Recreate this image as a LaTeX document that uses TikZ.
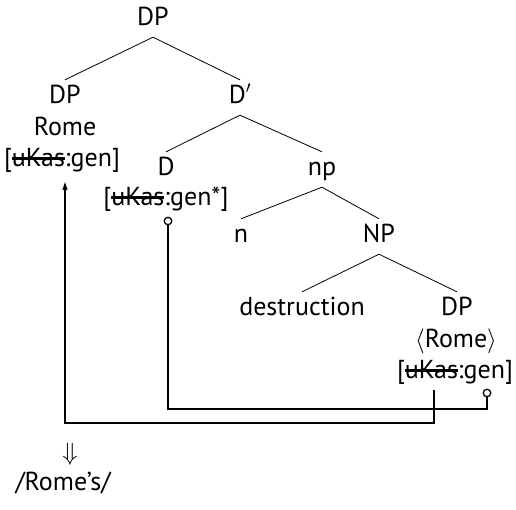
\documentclass[tikz,border=0pt]{standalone}
\usepackage{fontspec}
\setmainfont{PT Sans}
\usetikzlibrary{arrows.meta}
% struck-out feature name
\newsavebox\strkbox
\newcommand\strk[1]{\sbox\strkbox{#1}\rlap{\usebox\strkbox}\rule[0.25em]{\wd\strkbox}{0.08em}}
\begin{document}
\begin{tikzpicture}[x=1pt,y=-1pt,
  lbl/.style={anchor=base,inner xsep=1pt,inner ysep=8pt,text height=15pt,text depth=4pt,font=\fontsize{26}{30}\selectfont},
  branch/.style={line width=0.8pt},
  agree/.style={line width=1.5pt},
  ring/.style={circle,draw,fill=white,line width=1.3pt,inner sep=0pt,minimum size=7.5pt}]
\useasboundingbox (0,0) rectangle (516,509);
% tree labels
\node[lbl] (root) at (153,25) {DP};
\node[lbl] (dpl)  at (65,103) {DP};
\node[lbl] (rome) at (65,135) {Rome};
\node[lbl] (f1)   at (62,166) {[\strk{uKas}:gen]};
\node[lbl] (dbar) at (240,103) {D$'$};
\node[lbl] (d)    at (166,175) {D};
\node[lbl] (f2)   at (166,205) {[\strk{uKas}:gen*]};
\node[lbl] (np)   at (322,175) {np};
\node[lbl] (n)    at (241,242) {n};
\node[lbl] (NP)   at (379,242) {NP};
\node[lbl] (destr) at (302,315) {destruction};
\node[lbl] (dpr)  at (457,315) {DP};
\node[lbl] (rome2) at (456,347) {$\langle$Rome$\rangle$};
\node[lbl] (f3)   at (455,378) {[\strk{uKas}:gen]};
\node[lbl] (dn)   at (70,460) {$\Downarrow$};
\node[lbl] (pf)   at (63,490) {/Rome’s/};
% branches
\draw[branch] (root.south) -- (dpl.north);
\draw[branch] (root.south) -- (dbar.north);
\draw[branch] (dbar.south) -- (d.north);
\draw[branch] (dbar.south) -- (np.north);
\draw[branch] (np.south) -- (n.north);
\draw[branch] (np.south) -- (NP.north);
\draw[branch] (NP.south) -- (destr.north);
\draw[branch] (NP.south) -- (dpr.north);
% valuation path: lower DP feeds the specifier
\coordinate (a0) at (f3.south -| 434,0);
\coordinate (a1) at (65,182);
\draw[agree,-{Stealth[length=8pt,width=5pt,inset=1pt]}] (a0) -- (434,423) -| (a1);
% probe link between D and the lower DP
\node[ring] (r1) at (168,221) {};
\node[ring] (r2) at (487,393) {};
\draw[agree] (r2.south) |- (168,409) -- (r1.south);
\end{tikzpicture}
\end{document}
